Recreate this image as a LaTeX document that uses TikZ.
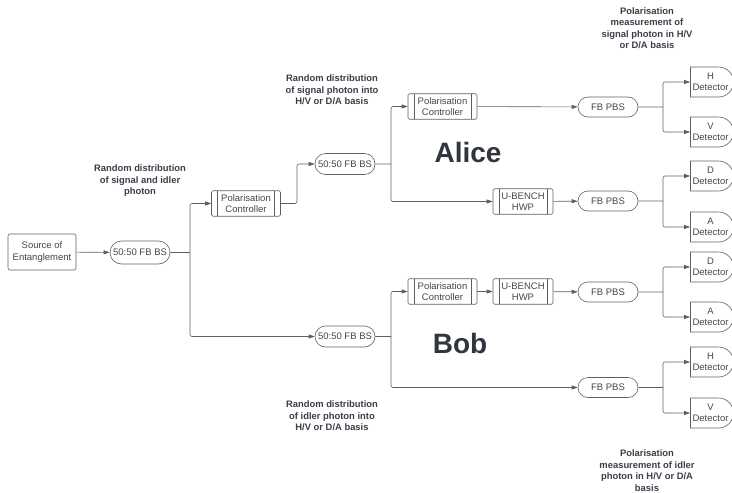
\documentclass[tikz,border=0pt]{standalone}
\usepackage{fontspec}
\setmainfont{Liberation Sans}
\usetikzlibrary{shapes.misc,arrows.meta}
\definecolor{ln}{RGB}{95,95,95}
\definecolor{tx}{RGB}{70,70,70}
\definecolor{ttl}{RGB}{58,62,70}
\definecolor{big}{RGB}{48,53,62}
\begin{document}
\begin{tikzpicture}[x=1pt,y=-1pt,
  every node/.style={text=tx,font=\fontsize{9.5}{11.3}\selectfont,align=center,inner sep=0pt},
  box/.style={draw=ln,line width=0.6pt,rounded corners=2pt,minimum width=68pt,minimum height=36pt},
  stad/.style={draw=ln,line width=0.6pt,rounded rectangle,minimum width=60pt,minimum height=#1},
  proc/.style={draw=ln,line width=0.6pt,rounded corners=1.5pt,minimum width=#1,minimum height=25.5pt,
    path picture={\draw[ln,line width=0.6pt]
      ([xshift=6pt]path picture bounding box.north west) -- ([xshift=6pt]path picture bounding box.south west)
      ([xshift=-6pt]path picture bounding box.north east) -- ([xshift=-6pt]path picture bounding box.south east);}},
  det/.style={draw=ln,line width=0.6pt,rounded rectangle,rounded rectangle left arc=none,minimum width=43pt,minimum height=30pt},
  ttlt/.style={text=ttl,font=\bfseries\fontsize{9.4}{11.5}\selectfont},
  bigt/.style={text=big,font=\bfseries\fontsize{28}{30}\selectfont},
  conn/.style={draw=ln,line width=0.6pt,rounded corners=2pt},
  arr/.style={conn,-{Triangle[length=6pt,width=4pt]}}
]
\useasboundingbox (0,0) rectangle (732,493);

% nodes
\node[box] (src) at (42,252) {Source of\\Entanglement};
\node[stad=23pt] (bs1) at (140,252.5) {50:50 FB BS};
\node[proc=69pt] (pc1) at (246,203.5) {Polarisation\\Controller};
\node[stad=21pt] (bs2) at (345,164) {50:50 FB BS};
\node[proc=69pt] (pc2) at (442.5,106.5) {Polarisation\\Controller};
\node[proc=60pt] (hwp1) at (523,201.5) {U-BENCH\\HWP};
\node[stad=20pt] (pbs1) at (608,107) {FB PBS};
\node[stad=20pt] (pbs2) at (608,201) {FB PBS};
\node[det] (dH1) at (710.5,82) {H\\Detector};
\node[det] (dV1) at (710.5,132) {V\\Detector};
\node[det] (dD1) at (710.5,176) {D\\Detector};
\node[det] (dA1) at (710.5,227) {A\\Detector};

\node[stad=21pt] (bs3) at (345,336.5) {50:50 FB BS};
\node[proc=69pt] (pc3) at (442.5,291.5) {Polarisation\\Controller};
\node[proc=60pt] (hwp2) at (523,291.5) {U-BENCH\\HWP};
\node[stad=20pt] (pbs3) at (608,292) {FB PBS};
\node[stad=20pt] (pbs4) at (608,387.5) {FB PBS};
\node[det] (dD2) at (710.5,267) {D\\Detector};
\node[det] (dA2) at (710.5,317) {A\\Detector};
\node[det] (dH2) at (710.5,362) {H\\Detector};
\node[det] (dV2) at (710.5,413) {V\\Detector};

% labels
\node[ttlt] (l1) at (140,181) {Random distribution\\of signal and idler\\photon};
\node[ttlt] (l2) at (332,90) {Random distribution\\of signal photon into\\H/V or D/A basis};
\node[ttlt] (l3) at (647,28) {Polarisation\\measurement of\\signal photon in H/V\\or D/A basis};
\node[ttlt] (l4) at (332,416) {Random distribution\\of idler photon into\\H/V or D/A basis};
\node[ttlt] (l5) at (647,470.5) {Polarisation\\measurement of idler\\photon in H/V or D/A\\basis};
\node[bigt] (alice) at (468,152) {Alice};
\node[bigt] (bob) at (460,343) {Bob};

% junction coordinates
\coordinate (j1) at (190,252.5);
\coordinate (j1b) at (297,203.5);
\coordinate (j2) at (391,164);
\coordinate (j3) at (391,336.5);
\coordinate (k1) at (663,107);
\coordinate (k2) at (663,201);
\coordinate (k3) at (663,292);
\coordinate (k4) at (663,387.5);

% connectors
\draw[arr] (src) -- (bs1);
\draw[conn] (bs1) -- (j1);
\draw[arr] (j1) |- (pc1);
\draw[arr] (j1) |- (bs3);
\draw[arr] (pc1) -- (j1b) |- (bs2);
\draw[conn] (bs2) -- (j2);
\draw[arr] (j2) |- (pc2);
\draw[arr] (j2) |- (hwp1);
\draw[arr] (pc2) -- (pbs1);
\draw[arr] (hwp1) -- (pbs2);
\draw[conn] (pbs1) -- (k1);
\draw[arr] (k1) |- (dH1);
\draw[arr] (k1) |- (dV1);
\draw[conn] (pbs2) -- (k2);
\draw[arr] (k2) |- (dD1);
\draw[arr] (k2) |- (dA1);

\draw[conn] (bs3) -- (j3);
\draw[arr] (j3) |- (pc3);
\draw[arr] (j3) |- (pbs4);
\draw[arr] (pc3) -- (hwp2);
\draw[arr] (hwp2) -- (pbs3);
\draw[conn] (pbs3) -- (k3);
\draw[arr] (k3) |- (dD2);
\draw[arr] (k3) |- (dA2);
\draw[conn] (pbs4) -- (k4);
\draw[arr] (k4) |- (dH2);
\draw[arr] (k4) |- (dV2);
\end{tikzpicture}
\end{document}
